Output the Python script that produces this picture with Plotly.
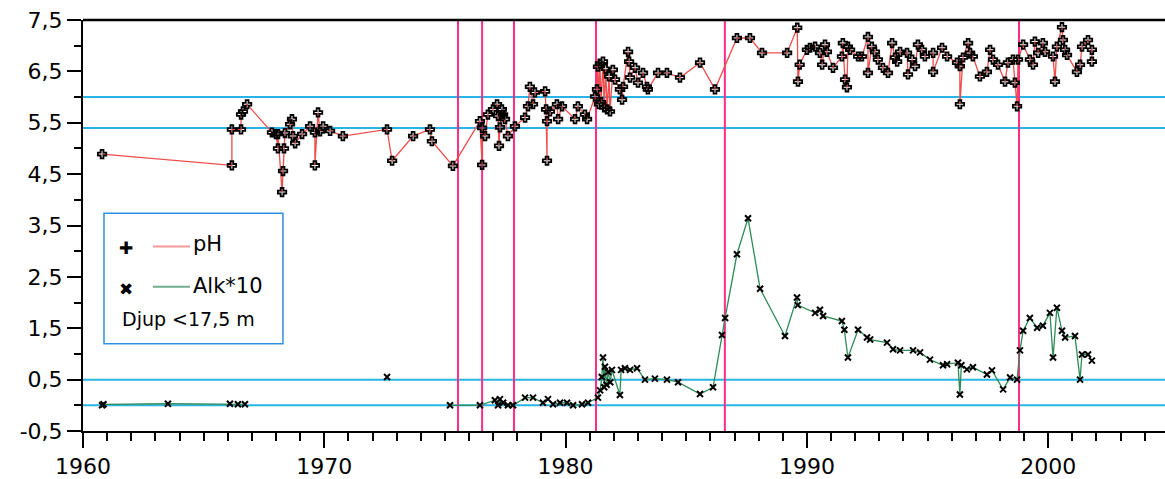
import plotly.graph_objects as go

# pH samples (decimal year, pH); repeated dates are samples taken at different depths
ph_year = [
    1960.79, 1966.17, 1966.17, 1966.55, 1966.55, 1966.63, 1966.80, 1967.83,
    1968.00, 1968.08, 1968.08, 1968.25, 1968.29, 1968.33, 1968.37, 1968.58,
    1968.66, 1968.70, 1968.79, 1969.08, 1969.41, 1969.61, 1969.61, 1969.74,
    1969.82, 1969.95, 1970.24, 1970.77, 1972.60, 1972.81, 1973.68, 1974.38,
    1974.46, 1975.33, 1976.45, 1976.54, 1976.54, 1976.66, 1976.78, 1976.99,
    1977.16, 1977.20, 1977.24, 1977.28, 1977.36, 1977.41, 1977.49, 1977.61,
    1977.90, 1978.32, 1978.44, 1978.52, 1978.65, 1978.73, 1979.15, 1979.19,
    1979.23, 1979.23, 1979.35, 1979.64, 1979.69, 1979.85, 1980.39, 1980.51,
    1980.80, 1980.89, 1981.22, 1981.30, 1981.34, 1981.38, 1981.42, 1981.47,
    1981.55, 1981.60, 1981.66, 1981.72, 1981.80, 1981.84, 1981.96, 1982.05,
    1982.25, 1982.34, 1982.38, 1982.59, 1982.63, 1982.67, 1982.88, 1983.00,
    1983.21, 1983.37, 1983.41, 1983.83, 1984.20, 1984.74, 1985.57, 1986.19,
    1987.10, 1987.64, 1988.14, 1989.18, 1989.60, 1989.63, 1989.70, 1990.00,
    1990.13, 1990.34, 1990.54, 1990.63, 1990.75, 1990.83, 1991.08, 1991.45,
    1991.49, 1991.58, 1991.66, 1991.70, 1991.79, 1992.12, 1992.28, 1992.53,
    1992.53, 1992.69, 1992.82, 1992.94, 1993.15, 1993.36, 1993.53, 1993.65,
    1993.74, 1993.86, 1994.15, 1994.19, 1994.36, 1994.48, 1994.60, 1994.77,
    1994.89, 1995.23, 1995.23, 1995.60, 1995.81, 1996.22, 1996.34, 1996.34,
    1996.47, 1996.68, 1996.76, 1996.88, 1997.17, 1997.46, 1997.59, 1997.71,
    1997.92, 1998.21, 1998.33, 1998.54, 1998.62, 1998.71, 1998.75, 1998.96,
    1999.24, 1999.37, 1999.45, 1999.58, 1999.78, 1999.87, 2000.20, 2000.28,
    2000.36, 2000.57, 2000.61, 2000.70, 2000.78, 2001.19, 2001.32, 2001.40,
    2001.65, 2001.81, 2001.81,
]
ph_value = [
    4.89, 4.67, 5.37, 5.37, 5.66, 5.72, 5.86, 5.31,
    5.28, 5.00, 5.28, 4.15, 4.56, 5.00, 5.30, 5.47,
    5.57, 5.24, 5.10, 5.28, 5.43, 5.31, 4.67, 5.70,
    5.33, 5.43, 5.34, 5.24, 5.37, 4.76, 5.24, 5.37,
    5.14, 4.66, 5.53, 4.68, 5.40, 5.24, 5.66, 5.76,
    5.86, 5.63, 5.05, 5.41, 5.76, 5.66, 5.57, 5.24,
    5.43, 5.60, 5.82, 6.20, 5.86, 6.09, 6.11, 5.76,
    4.76, 5.53, 5.72, 5.86, 5.57, 5.82, 5.57, 5.82,
    5.66, 5.57, 6.01, 6.15, 6.59, 5.86, 6.65, 5.90,
    6.69, 5.80, 6.55, 5.76, 6.40, 5.72, 6.53, 6.34,
    6.15, 5.95, 6.20, 6.88, 6.69, 6.38, 6.57, 6.28,
    6.47, 6.20, 6.15, 6.47, 6.47, 6.38, 6.67, 6.15,
    7.15, 7.15, 6.86, 6.86, 7.35, 6.30, 6.63, 6.92,
    6.96, 6.98, 6.86, 6.63, 7.02, 6.88, 6.57, 6.79,
    7.05, 6.34, 6.19, 6.98, 6.92, 6.79, 6.79, 7.17,
    6.47, 6.98, 6.88, 6.73, 6.57, 6.47, 7.05, 6.77,
    6.69, 6.88, 6.86, 6.44, 6.73, 6.60, 7.02, 6.92,
    6.79, 6.86, 6.49, 6.96, 6.79, 6.67, 6.60, 5.86,
    6.77, 7.05, 6.86, 6.79, 6.40, 6.49, 6.92, 6.73,
    6.63, 6.30, 6.67, 6.73, 6.28, 5.82, 6.73, 7.02,
    6.73, 6.63, 7.08, 6.86, 7.05, 6.88, 6.79, 6.30,
    6.98, 7.36, 7.11, 6.92, 6.82, 6.49, 6.63, 6.98,
    7.11, 6.92, 6.69,
]

# Alkalinity x 10 samples; None breaks the line between separate sampling periods
alk_year = [
    1960.79, 1960.85, 1963.52, 1966.09, 1966.42, 1966.71, None,
    1972.60, None,
    1975.21, 1976.45, 1977.07, 1977.20, 1977.28, 1977.41, 1977.61, 1977.82,
    1978.32, 1978.65, 1979.06, 1979.27, 1979.48, 1979.77, 1980.06, 1980.31,
    1980.68, 1980.93, 1981.34, 1981.43, 1981.50, 1981.55, 1981.60, 1981.63,
    1981.70, 1981.76, 1981.85, 1981.92, 1982.25, 1982.30, 1982.46, 1982.67,
    1982.96, 1983.29, 1983.70, 1984.20, 1984.66, 1985.57, 1986.11, 1986.48,
    1986.61, 1987.10, 1987.56, 1988.06, 1989.09, 1989.59, 1989.62, 1990.34,
    1990.54, 1990.67, 1991.45, 1991.55, 1991.70, 1992.12, 1992.49, 1992.62,
    1993.32, 1993.57, 1993.86, 1994.40, 1994.69, 1995.10, 1995.64, 1995.81,
    1996.26, 1996.34, 1996.40, 1996.63, 1996.88, 1997.46, 1997.67, 1998.13,
    1998.42, 1998.71, 1998.83, 1998.96, 1999.24, 1999.54, 1999.78, 2000.07,
    2000.20, 2000.36, 2000.57, 2000.70, 2001.11, 2001.32, 2001.40, 2001.65,
    2001.81,
]
alk_value = [
    0.00, 0.02, 0.03, 0.03, 0.02, 0.02, None,
    0.55, None,
    0.00, 0.00, 0.10, 0.00, 0.12, 0.05, 0.00, 0.00,
    0.15, 0.15, 0.05, 0.12, 0.02, 0.05, 0.05, 0.00,
    0.02, 0.05, 0.15, 0.29, 0.55, 0.93, 0.35, 0.75,
    0.40, 0.65, 0.45, 0.69, 0.20, 0.69, 0.72, 0.69,
    0.72, 0.50, 0.52, 0.50, 0.45, 0.22, 0.35, 1.37,
    1.70, 2.94, 3.64, 2.27, 1.35, 2.10, 1.95, 1.80,
    1.86, 1.74, 1.64, 1.47, 0.93, 1.47, 1.32, 1.28,
    1.22, 1.09, 1.07, 1.07, 1.03, 0.89, 0.78, 0.80,
    0.83, 0.21, 0.78, 0.70, 0.74, 0.60, 0.68, 0.31,
    0.54, 0.50, 1.07, 1.45, 1.70, 1.51, 1.55, 1.80,
    0.93, 1.90, 1.45, 1.32, 1.35, 0.50, 0.99, 0.99,
    0.87,
]

# Reference levels (horizontal) and event years (vertical)
limit_levels = [6.0, 5.4, 0.5, 0.0]
event_years = [1975.54, 1976.54, 1977.86, 1981.26, 1986.60, 1998.79]

y_tick_values = [-0.5, 0.5, 1.5, 2.5, 3.5, 4.5, 5.5, 6.5, 7.5]
y_tick_labels = ["-0,5", "0,5", "1,5", "2,5", "3,5", "4,5", "5,5", "6,5", "7,5"]
x_tick_values = [1960, 1970, 1980, 1990, 2000]
x_range = [1960, 2004.84]
y_range = [-0.5, 7.5]

legend_labels = ["pH", "Alk*10", "Djup <17,5 m"]

PH_COLOR = "#f04c4c"
ALK_COLOR = "#2e8b57"
LIMIT_COLOR = "#29b4e6"
EVENT_COLOR = "#ff2d86"
BOX_COLOR = "#2f8fe0"
FONT = "DejaVu Sans"

fig = go.Figure()

fig.add_trace(go.Scatter(
    x=ph_year, y=ph_value, mode="lines+markers", name=legend_labels[0],
    line=dict(color=PH_COLOR, width=1.3),
    marker=dict(symbol="cross-open", size=7, color="black", line=dict(color="black", width=1.8)),
    showlegend=False,
))
fig.add_trace(go.Scatter(
    x=alk_year, y=alk_value, mode="lines+markers", name=legend_labels[1],
    line=dict(color=ALK_COLOR, width=1.3), connectgaps=False,
    marker=dict(symbol="x-thin-open", size=6, color="black", line=dict(color="black", width=2)),
    showlegend=False,
))

shapes = []
for lvl in limit_levels:
    shapes.append(dict(type="line", xref="paper", yref="y", x0=0, x1=1, y0=lvl, y1=lvl,
                       line=dict(color=LIMIT_COLOR, width=2), layer="below"))
for yr in event_years:
    shapes.append(dict(type="line", xref="x", yref="paper", x0=yr, x1=yr, y0=0, y1=1,
                       line=dict(color=EVENT_COLOR, width=2), layer="below"))
# top frame line
shapes.append(dict(type="line", xref="paper", yref="paper", x0=0, x1=1, y0=1, y1=1,
                   line=dict(color="black", width=2.5)))

# legend box drawn in paper coordinates
shapes.append(dict(type="rect", xref="paper", yref="paper", x0=0.0194, x1=0.1848,
                   y0=0.212, y1=0.530, line=dict(color=BOX_COLOR, width=1.5),
                   fillcolor="white"))
shapes.append(dict(type="line", xref="paper", yref="paper", x0=0.0647, x1=0.0989,
                   y0=0.449, y1=0.449, line=dict(color="#f29a9a", width=2)))
shapes.append(dict(type="line", xref="paper", yref="paper", x0=0.0647, x1=0.0989,
                   y0=0.351, y1=0.351, line=dict(color="#6fae8e", width=2)))

annotations = [
    dict(xref="paper", yref="paper", x=0.0397, y=0.446, text="\u271a", showarrow=False,
         font=dict(family=FONT, size=17, color="black"), xanchor="center", yanchor="middle"),
    dict(xref="paper", yref="paper", x=0.0397, y=0.345, text="\u2716", showarrow=False,
         font=dict(family=FONT, size=17, color="black"), xanchor="center", yanchor="middle"),
    dict(xref="paper", yref="paper", x=0.1000, y=0.455, text=legend_labels[0], showarrow=False,
         font=dict(family=FONT, size=21, color="black"), xanchor="left", yanchor="middle"),
    dict(xref="paper", yref="paper", x=0.1000, y=0.352, text=legend_labels[1], showarrow=False,
         font=dict(family=FONT, size=21, color="black"), xanchor="left", yanchor="middle"),
    dict(xref="paper", yref="paper", x=0.034, y=0.272, text=legend_labels[2], showarrow=False,
         font=dict(family=FONT, size=19, color="black"), xanchor="left", yanchor="middle"),
]

fig.update_layout(
    width=1165, height=479,
    margin=dict(l=83, r=0, t=20, b=44),
    plot_bgcolor="white", paper_bgcolor="white",
    font=dict(family=FONT, size=22, color="black"),
    shapes=shapes, annotations=annotations,
    showlegend=False,
)
fig.update_xaxes(
    range=x_range, tickvals=x_tick_values, ticktext=[str(v) for v in x_tick_values],
    showgrid=False, zeroline=False, showline=True, linecolor="black", linewidth=2,
    ticks="outside", ticklen=15, tickwidth=2, tickcolor="black",
    minor=dict(dtick=1, tick0=1960, ticks="outside", ticklen=8, tickwidth=2,
               tickcolor="black", showgrid=False),
    tickfont=dict(family=FONT, size=22),
)
fig.update_yaxes(
    range=y_range, tickvals=y_tick_values, ticktext=y_tick_labels,
    showgrid=False, zeroline=False, showline=True, linecolor="black", linewidth=2,
    ticks="outside", ticklen=14, tickwidth=2, tickcolor="black",
    minor=dict(tickvals=[0, 1, 2, 3, 4, 5, 6, 7], ticks="outside", ticklen=7,
               tickwidth=2, tickcolor="black", showgrid=False),
    tickfont=dict(family=FONT, size=22),
)

fig.write_html("out.html")
